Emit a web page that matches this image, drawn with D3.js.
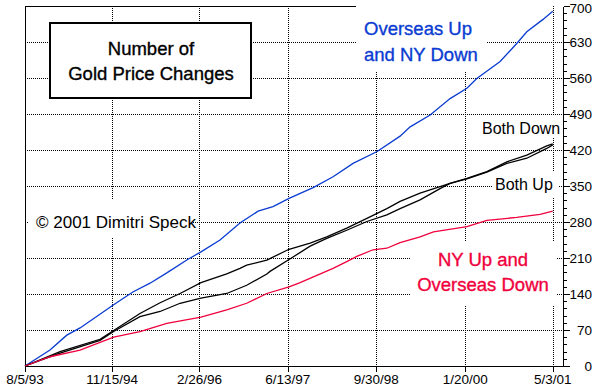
<!DOCTYPE html>
<html><head><meta charset="utf-8">
<script src="https://cdn.jsdelivr.net/npm/d3@7"></script>
<style>body{margin:0;background:#fff}svg{display:block}</style>
</head><body>
<svg id="c" width="599" height="391"></svg>
<script>
// ---------- data ----------
const xTickLabels = ["8/5/93","11/15/94","2/26/96","6/13/97","9/30/98","1/20/00","5/3/01"];
const yMajorTicks = [0,70,140,210,280,350,420,490,560,630,700];
const yMinorStep = 14;

const overseasUpDates = ["1993-08-05","1993-12-17","1994-03-17","1994-05-27","1994-11-23","1995-03-06","1995-06-06","1995-09-04","1995-12-20","1996-01-17","1996-03-05","1996-06-15","1996-09-30","1997-01-05","1997-03-26","1997-06-20","1997-10-27","1998-02-11","1998-05-29","1998-10-05","1999-02-05","1999-03-31","1999-07-16","1999-10-31","2000-01-29","2000-03-22","2000-07-25","2000-10-22","2000-12-15","2001-03-12","2001-05-03"];
const overseasUpValues = [0,31,60,74,119,144,161,181,206,212,222,245,278,301,310,326,347,368,394,417,447,465,488,520,540,559,592,627,650,674,690];

const bothDownDates = ["1993-08-05","1994-02-09","1994-09-11","1994-11-23","1995-04-13","1995-07-30","1995-11-14","1996-03-05","1996-07-21","1996-09-30","1996-11-05","1997-02-21","1997-06-20","1997-10-11","1998-01-08","1998-04-25","1998-08-11","1998-11-26","1999-02-05","1999-05-23","1999-09-07","1999-10-31","2000-01-29","2000-05-15","2000-08-30","2000-12-15","2001-04-01","2001-05-03"];
const bothDownValues = [0,28,52,69,102,123,141,162,179,190,196,206,227,239,251,268,287,306,320,336,349,355,365,378,397,410,428,432];

const bothUpDates = ["1993-08-05","1994-02-09","1994-09-11","1994-11-23","1995-04-13","1995-07-30","1995-11-14","1996-03-05","1996-07-21","1996-11-05","1997-02-21","1997-03-10","1997-06-20","1997-10-11","1998-01-08","1998-04-25","1998-08-11","1998-11-26","1999-02-05","1999-05-23","1999-09-07","1999-10-31","2000-01-29","2000-05-15","2000-08-30","2000-12-15","2001-04-01","2001-05-03"];
const bothUpValues = [0,25,50,67,96,106,122,132,141,157,179,184,207,233,248,264,281,294,306,323,345,355,364,377,394,404,423,430];

const nyUpDates = ["1993-08-05","1993-12-17","1994-05-27","1994-11-23","1995-04-13","1995-09-04","1996-03-05","1996-07-21","1996-11-05","1997-02-21","1997-06-20","1997-08-18","1998-02-11","1998-04-25","1998-06-18","1998-09-13","1998-11-26","1999-02-05","1999-05-23","1999-08-03","2000-01-29","2000-05-15","2000-10-22","2001-02-24","2001-05-03"];
const nyUpValues = [0,18,31,56,67,83,95,109,122,141,154,162,190,203,213,226,229,240,251,261,271,283,289,295,301];

const xDomainStart = "1993-08-05";
const xDomainEnd = "2001-06-27";

// ---------- setup ----------
const BLUE = "#0a3cd2", RED = "#f0003c";
const svg = d3.select("#c");
const pISO = d3.timeParse("%Y-%m-%d");
const pTick = d3.timeParse("%m/%d/%y");
const L = 25, R = 563, T = 6, B = 366;

const x = d3.scaleTime().domain([pISO(xDomainStart), pISO(xDomainEnd)]).range([L, R]);
const y = d3.scaleLinear().domain([0, 700]).range([B, T]);
const px = v => Math.round(v) + 0.5;

const FONT = "'Liberation Sans', Arial, sans-serif";
const NARROW = "'Liberation Sans Narrow','Arial Narrow','Liberation Sans', sans-serif";

// gridlines
const grid = svg.append("g").attr("stroke", "#000").attr("stroke-width", 1)
  .attr("stroke-dasharray", "1,1").attr("shape-rendering", "crispEdges");
grid.selectAll(".h").data(yMajorTicks.filter(v => v > 0 && v < 700)).join("line")
  .attr("x1", L).attr("x2", R).attr("y1", d => px(y(d))).attr("y2", d => px(y(d)));
grid.selectAll(".v").data(xTickLabels.slice(1)).join("line")
  .attr("x1", d => px(x(pTick(d)))).attr("x2", d => px(x(pTick(d))))
  .attr("y1", T).attr("y2", B);

// white boxes behind labels
const boxes = [
  [356, 0, 131, 72],   // blue label
  [480, 116, 83, 22],  // Both Down
  [492, 172, 66, 25],  // Both Up
  [410, 242, 147, 63], // red label
  [28, 200, 165, 38]   // copyright
];
svg.append("g").selectAll("rect").data(boxes).join("rect")
  .attr("x", d => d[0]).attr("y", d => d[1]).attr("width", d => d[2]).attr("height", d => d[3])
  .attr("fill", "#fff");

// frame / axes
const ax = svg.append("g").attr("stroke", "#000").attr("stroke-width", 1).attr("shape-rendering", "crispEdges");
ax.append("line").attr("x1", px(L)).attr("x2", px(L)).attr("y1", px(T)).attr("y2", B + 6);
ax.append("line").attr("x1", L).attr("x2", px(R)).attr("y1", px(B)).attr("y2", px(B));
ax.append("line").attr("x1", px(R)).attr("x2", px(R)).attr("y1", px(T)).attr("y2", px(B));
ax.append("line").attr("x1", L).attr("x2", 356).attr("y1", px(T)).attr("y2", px(T));

// bottom axis ticks + labels
ax.selectAll(".xt").data(xTickLabels).join("line")
  .attr("x1", d => px(x(pTick(d)))).attr("x2", d => px(x(pTick(d))))
  .attr("y1", px(B)).attr("y2", B + 6);
svg.append("g").selectAll("text").data(xTickLabels).join("text")
  .attr("x", d => x(pTick(d))).attr("y", 384)
  .attr("text-anchor", "middle").attr("font-family", NARROW).attr("font-size", 13.5)
  .text(d => d);

// right axis ticks + labels
const minorTicks = d3.range(0, 701, yMinorStep).filter(v => v % 70 !== 0);
ax.selectAll(".ymin").data(minorTicks).join("line")
  .attr("x1", px(R)).attr("x2", R + 4).attr("y1", d => px(y(d))).attr("y2", d => px(y(d)));
ax.selectAll(".ymaj").data(yMajorTicks).join("line")
  .attr("x1", px(R)).attr("x2", R + 7).attr("y1", d => px(y(d))).attr("y2", d => px(y(d)));
svg.append("g").selectAll("text").data(yMajorTicks).join("text")
  .attr("x", 592).attr("y", d => Math.max(y(d) + 5, 13))
  .attr("text-anchor", "end").attr("font-family", NARROW).attr("font-size", 13.5)
  .text(d => d);

// data lines
const line = d3.line().x(d => x(d[0])).y(d => y(d[1]));
const series = [
  [overseasUpDates, overseasUpValues, BLUE],
  [bothDownDates, bothDownValues, "#000"],
  [bothUpDates, bothUpValues, "#000"],
  [nyUpDates, nyUpValues, RED]
];
svg.append("g").selectAll("path").data(series).join("path")
  .attr("fill", "none").attr("stroke", d => d[2]).attr("stroke-width", 1.3)
  .attr("d", d => line(d[0].map((s, i) => [pISO(s), d[1][i]])));

// title box
svg.append("rect").attr("x", 50).attr("y", 23).attr("width", 201).attr("height", 75)
  .attr("fill", "#fff").attr("stroke", "#000").attr("stroke-width", 2);

function txt(t, xx, yy, size, color, anchor, heavy) {
  svg.append("text").attr("x", xx).attr("y", yy).attr("font-family", FONT)
    .attr("font-size", size).attr("fill", color).attr("text-anchor", anchor || "start")
    .attr("stroke", heavy ? color : "none").attr("stroke-width", heavy ? 0.35 : 0)
    .text(t);
}
txt("Number of", 151, 55, 18.5, "#000", "middle", true);
txt("Gold Price Changes", 151, 80, 18.5, "#000", "middle", true);
txt("Overseas Up", 364, 35, 18.5, BLUE, "start", true);
txt("and NY Down", 364, 61, 18.5, BLUE, "start", true);
txt("Both Down", 482, 134, 16, "#000", "start", false);
txt("Both Up", 495, 190, 16, "#000", "start", false);
txt("NY Up and", 483, 266, 18.5, RED, "middle", true);
txt("Overseas Down", 483, 291, 18.5, RED, "middle", true);
txt("\u00A9 2001 Dimitri Speck", 36, 228, 17, "#000", "start", false);
</script>
</body></html>
